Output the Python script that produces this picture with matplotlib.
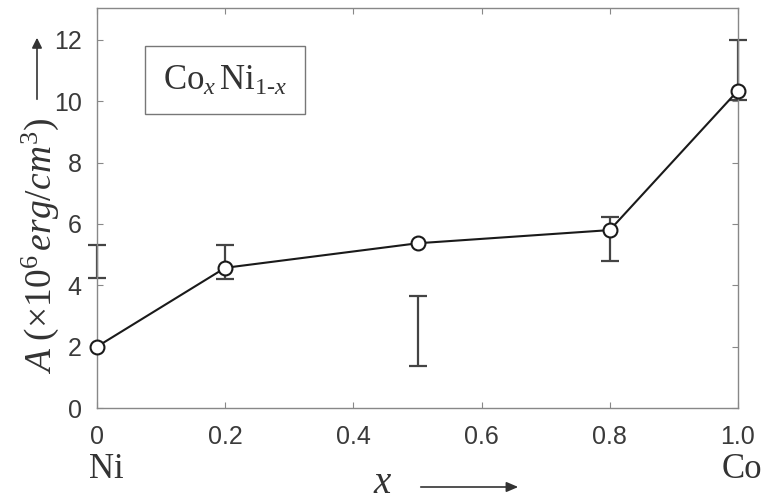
import matplotlib
matplotlib.use("Agg")
import matplotlib.pyplot as plt
import numpy as np

# data
x_vals = [0.0, 0.2, 0.5, 0.8, 1.0]
a_vals = [2.0, 4.57, 5.37, 5.8, 10.35]
err_x = [0.0, 0.2, 0.5, 0.8, 1.0]
err_lo = [4.23, 4.2, 1.38, 4.79, 10.04]
err_hi = [5.32, 5.32, 3.65, 6.22, 12.0]
xticks = [0, 0.2, 0.4, 0.6, 0.8, 1.0]
xticklabels = ["0", "0.2", "0.4", "0.6", "0.8", "1.0"]
yticks = [0, 2, 4, 6, 8, 10, 12]

plt.rcParams['mathtext.fontset'] = 'custom'
plt.rcParams['mathtext.rm'] = 'Liberation Serif'
plt.rcParams['mathtext.it'] = 'Liberation Serif:italic'
plt.rcParams['mathtext.bf'] = 'Liberation Serif:bold'

fig = plt.figure(figsize=(7.64, 5.01), dpi=100)
ax = fig.add_axes([97/764, 1 - 408/501, (738-97)/764, (408-8)/501])

lo = np.array(err_lo); hi = np.array(err_hi)
ax.errorbar(err_x, (lo + hi) / 2, yerr=(hi - lo) / 2, fmt='none',
            ecolor='#444444', elinewidth=1.6, capsize=6.5, capthick=1.6,
            clip_on=False, zorder=2)
ax.plot(x_vals, a_vals, color='#1a1a1a', lw=1.5, marker='o', ms=10,
        mfc='white', mec='#1a1a1a', mew=1.5, clip_on=False, zorder=3)

ax.set_xlim(0, 1.0)
ax.set_ylim(0, 13.04)
ax.set_xticks(xticks)
ax.set_xticklabels(xticklabels)
ax.set_yticks(yticks)
for s in ax.spines.values():
    s.set_color('#888888')
    s.set_linewidth(1.0)
ax.tick_params(direction='in', length=4, color='#888888', top=True, right=True,
               labelsize=18, labelcolor='#3a3a3a')
ax.tick_params(axis='y', pad=11)
ax.tick_params(axis='x', pad=12)
for lab in ax.get_xticklabels() + ax.get_yticklabels():
    lab.set_fontfamily('Liberation Sans')

# composition box
fig.text(225/764, 1 - 80/501, r'$\mathrm{Co}_{x}\,\mathrm{Ni}_{1\text{-}x}$',
         ha='center', va='center', fontsize=25, color='#333333',
         bbox=dict(boxstyle='square,pad=0.5', fc='white', ec='#777777', lw=1.0))

# y label with arrow
fig.text(40/764, 1 - 246/501, r'$A\ (\times10^{6}\,erg/cm^{3})$', rotation=90,
         ha='center', va='center', fontsize=27, color='#333333')
fig.add_artist(matplotlib.patches.FancyArrowPatch(
    (37/764, 1 - 102/501), (37/764, 1 - 35/501), transform=fig.transFigure,
    arrowstyle='-|>,head_length=6,head_width=3', color='#333333', lw=1.2))

# x label with arrow
fig.text(383/764, 1 - 493/501, r'$x$', ha='center', va='baseline', fontsize=28,
         color='#333333')
fig.add_artist(matplotlib.patches.FancyArrowPatch(
    (418/764, 1 - 487/501), (521/764, 1 - 487/501), transform=fig.transFigure,
    arrowstyle='-|>,head_length=7,head_width=3', color='#333333', lw=1.2))

fig.text(106/764, 1 - 470/501, 'Ni', ha='center', va='center', fontsize=25,
         family='Liberation Serif', color='#333333')
fig.text(742/764, 1 - 470/501, 'Co', ha='center', va='center', fontsize=25,
         family='Liberation Serif', color='#333333')

fig.savefig('out.png', dpi=100)
